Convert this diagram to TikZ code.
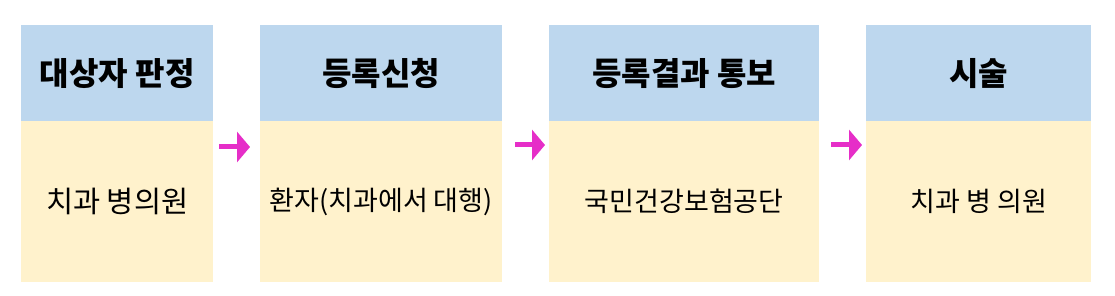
\documentclass[tikz,border=0pt]{standalone}
\usepackage{fontspec}
\newfontfamily\kr{Noto Sans CJK KR}
\usetikzlibrary{arrows.meta}
\definecolor{hdrblue}{HTML}{BDD7EE}
\definecolor{bodygold}{HTML}{FFF2CC}
\definecolor{flowmag}{HTML}{E62EC8}
\tikzset{
  hdrbox/.style={fill=hdrblue, draw=none, inner sep=0pt, anchor=north west,
    minimum height=96pt, font=\kr\bfseries\fontsize{32}{32}\selectfont, text=black},
  bodybox/.style={fill=bodygold, draw=none, inner sep=0pt, anchor=north west,
    minimum height=161pt, font=\kr\fontsize{27}{27}\selectfont, text=black},
  flow/.style={draw=flowmag, line width=5pt,
    -{Triangle[length=13pt,width=30pt,fill=flowmag]}, shorten >=0pt}
}
\begin{document}
\begin{tikzpicture}[x=1pt,y=-1pt]
\useasboundingbox[fill=white] (0,0) rectangle (1115,296);
% column 1
\node[hdrbox, minimum width=192pt] (h1) at (21,25) {대상자 판정};
\node[bodybox, minimum width=192pt, font=\kr\fontsize{29.5}{29.5}\selectfont] (b1) at (21,121) {치과 병의원};
% column 2
\node[hdrbox, minimum width=242pt] (h2) at (260,25) {등록신청};
\node[bodybox, minimum width=242pt] (b2) at (260,121) {환자(치과에서 대행)};
% column 3
\node[hdrbox, minimum width=270pt] (h3) at (549,25) {등록결과 통보};
\node[bodybox, minimum width=270pt] (b3) at (549,121) {국민건강보험공단};
% column 4
\node[hdrbox, minimum width=225pt] (h4) at (866,25) {시술};
\node[bodybox, minimum width=225pt] (b4) at (866,121) {치과 병 의원};
% arrows
\coordinate (a1s) at (219,147);
\coordinate (a1e) at (250,147);
\coordinate (a2s) at (515,145);
\coordinate (a2e) at (545,145);
\coordinate (a3s) at (831,145);
\coordinate (a3e) at (862,145);
\draw[flow] (a1s) -- (a1e);
\draw[flow] (a2s) -- (a2e);
\draw[flow] (a3s) -- (a3e);
\end{tikzpicture}
\end{document}
